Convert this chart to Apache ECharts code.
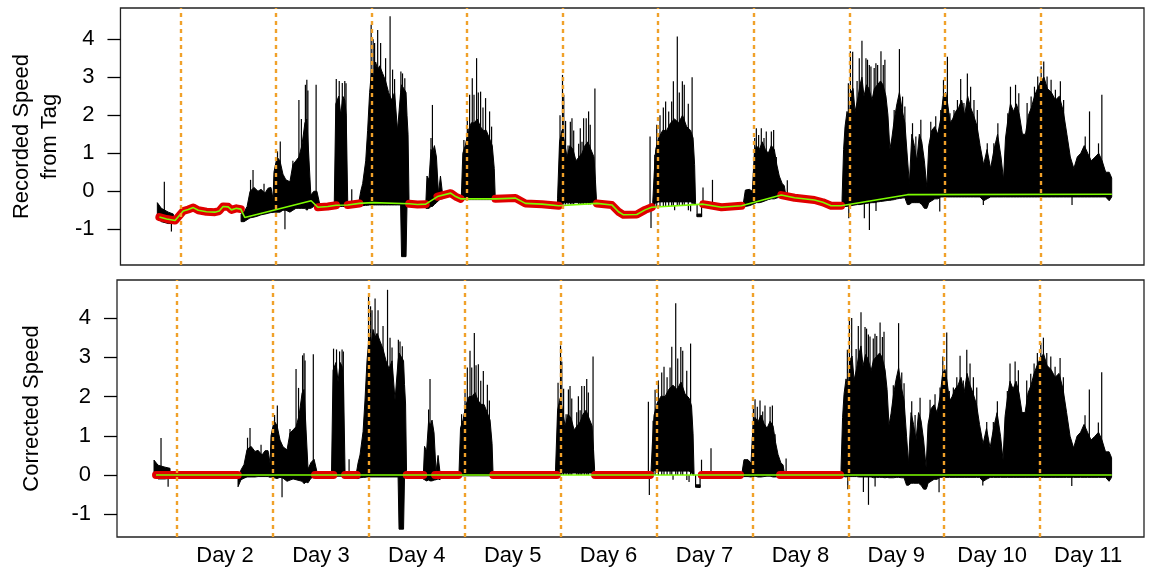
<!DOCTYPE html>
<html>
<head>
<meta charset="utf-8">
<script src="https://cdn.jsdelivr.net/npm/echarts@6/dist/echarts.min.js"></script>
<style>
  html, body { margin: 0; padding: 0; background: #fff; }
  #chart { width: 1149px; height: 573px; }
</style>
</head>
<body>
<div id="chart"></div>
<script>
// time is in days; Day k runs from k-1 to k
const tMin = 0.374;
const tMax = 11.083;
const dayBreaks = [1, 2, 3, 4, 5, 6, 7, 8, 9, 10];
const dayMids = [1.5, 2.5, 3.5, 4.5, 5.5, 6.5, 7.5, 8.5, 9.5, 10.5];
const dayLabels = ['Day 2', 'Day 3', 'Day 4', 'Day 5', 'Day 6', 'Day 7', 'Day 8', 'Day 9', 'Day 10', 'Day 11'];
const yTicks = [-1, 0, 1, 2, 3, 4];

// envelope of the dense black trace (upper / lower edge), null splits the bouts
const bodyT = [
  0.760, 0.802, 0.875, 0.927, null,
  1.636, 1.667, 1.699, 1.730, 1.772, 1.813, 1.845, 1.886, 1.918, 1.949, 1.970, 1.980, 2.012, 2.043, 2.074, 2.105, 2.147, 2.178, 2.210, 2.241, 2.272, 2.304, 2.324, 2.345, 2.366, 2.397, 2.429, 2.460, null,
  2.611, 2.627, 2.658, 2.679, 2.700, 2.721, 2.736, 2.752, null,
  2.867, 2.888, 2.908, 2.940, 2.960, 2.981, 3.002, 3.023, 3.044, 3.065, 3.086, 3.117, 3.148, 3.179, 3.211, 3.242, 3.273, 3.305, 3.315, 3.362, 3.372, 3.383, 3.393, null,
  3.570, 3.581, 3.602, 3.623, 3.638, 3.659, 3.680, 3.701, 3.722, 3.743, null,
  3.941, 3.956, 3.982, 4.014, 4.045, 4.076, 4.108, 4.139, 4.170, 4.201, 4.233, 4.264, 4.285, 4.295, null,
  4.947, 4.968, 4.994, 5.020, 5.046, 5.077, 5.109, 5.140, 5.171, 5.203, 5.234, 5.265, 5.296, 5.328, 5.343, 5.354, null,
  5.943, 5.959, 5.974, 6.005, 6.047, 6.089, 6.130, 6.172, 6.214, 6.255, 6.297, 6.339, 6.365, 6.381, 6.391, null,
  6.407, 6.454, null,
  6.892, 6.912, 6.954, 6.985, 7.006, 7.027, 7.058, 7.090, 7.121, 7.152, 7.184, 7.215, 7.241, 7.267, 7.298, 7.319, 7.335, null,
  7.924, 7.940, 7.955, 7.976, 7.997, 8.018, 8.039, 8.060, 8.086, 8.112, 8.132, 8.153, 8.180, 8.205, 8.237,
  8.262, 8.294, 8.326, 8.352, 8.383, 8.404, 8.424, 8.445, 8.471, 8.498, 8.524, 8.555, 8.581,
  8.607, 8.628, 8.654, 8.680, 8.706, 8.732, 8.758, 8.785, 8.811, 8.831, 8.862, 8.894, 8.925,
  8.956, 8.983, 9.008, 9.029, 9.055, 9.081, 9.113, 9.144, 9.175, 9.207, 9.238, 9.269, 9.300, 9.337, 9.368,
  9.405, 9.441, 9.478, 9.514, 9.551, 9.587, 9.613, 9.634, 9.660, 9.686,
  9.718, 9.749, 9.780, 9.811, 9.843, 9.874, 9.905, 9.937, 9.968, 10.004,
  10.036, 10.072, 10.114, 10.156, 10.197, 10.239, 10.276, 10.312, 10.349, 10.385,
  10.422, 10.458, 10.494, 10.531, 10.572, 10.609, 10.645, 10.682, 10.719, 10.745
];
const recHi = [
  -0.3, -0.45, -0.55, -0.6, null,
  -0.6, -0.55, -0.4, 0.0, 0.1, 0.0, 0.05, -0.05, 0.08, 0.1, -0.2, 0.5, 0.9, 0.8, 0.45, 0.3, 0.25, 0.7, 0.8, 0.9, 1.2, 1.8, 1.9, 0.9, -0.1, 0.0, 0.0, -0.35, null,
  -0.3, 2.3, 2.5, 2.0, 2.5, 2.4, 2.0, -0.3, null,
  -0.3, 0.0, 0.2, 0.8, 1.6, 2.6, 3.2, 3.0, 3.4, 3.2, 3.3, 3.1, 2.9, 2.6, 2.4, 2.6, 1.6, 2.6, 2.8, 2.6, 2.0, 1.5, -0.2, null,
  -0.25, 0.4, 0.3, 1.1, 1.0, 1.2, 0.9, -0.05, 0.4, -0.05, null,
  -0.1, 1.0, 1.2, 1.6, 1.8, 1.8, 1.9, 1.7, 1.6, 1.6, 1.4, 1.2, 0.6, -0.15, null,
  -0.2, 1.3, 1.6, 1.3, 0.9, 1.2, 1.1, 0.8, 0.9, 1.0, 1.2, 1.3, 1.1, 0.9, 0.3, -0.2, null,
  -0.3, 0.5, 1.1, 1.4, 1.6, 1.6, 1.8, 1.9, 1.8, 2.0, 1.7, 1.6, 1.4, 0.7, -0.3, null,
  -0.6, -0.6, null,
  -0.3, 0.03, 0.05, 0.0, 1.0, 1.2, 1.1, 1.3, 1.1, 1.0, 1.2, 1.1, 0.7, 0.4, 0.2, 0.15, -0.1, null,
  -0.2, 1.1, 1.7, 2.1, 1.8, 2.6, 2.7, 2.1, 2.4, 2.8, 3.0, 2.5, 2.8, 2.7, 2.4,
  2.7, 2.8, 2.9, 2.8, 2.5, 2.0, 1.1, 1.4, 1.9, 2.3, 2.6, 2.1, 1.8,
  0.9, 0.2, 1.5, 1.2, 0.8, 1.5, 1.3, 0.8, 0.1, 1.2, 1.6, 1.7, 1.5,
  1.9, 2.5, 2.6, 2.3, 1.8, 1.9, 2.1, 2.2, 2.4, 2.0, 2.5, 2.2, 2.0, 1.7, 1.2,
  0.7, 1.1, 0.6, 1.1, 1.5, 0.9, 0.3, 1.4, 1.9, 2.3,
  2.1, 2.3, 2.0, 1.5, 1.5, 2.0, 2.2, 2.5, 2.7, 2.9,
  3.0, 2.7, 2.6, 2.4, 2.5, 2.1, 1.5, 0.9, 0.6, 0.9,
  1.0, 1.2, 1.0, 0.8, 0.9, 1.0, 0.8, 0.5, 0.5, 0.35
];
const recLo = [
  -0.7, -0.8, -0.85, -0.85, null,
  -0.8, -0.8, -0.75, -0.7, -0.68, -0.65, -0.62, -0.6, -0.58, -0.56, -0.56, -0.55, -0.55, -0.55, -0.5, -0.5, -0.55, -0.5, -0.45, -0.45, -0.45, -0.45, -0.5, -0.45, -0.45, -0.4, -0.45, -0.5, null,
  -0.45, -0.4, -0.4, -0.4, -0.4, -0.4, -0.4, -0.45, null,
  -0.4, -0.4, -0.38, -0.37, -0.37, -0.36, -0.36, -0.36, -0.36, -0.36, -0.36, -0.36, -0.36, -0.36, -0.36, -0.36, -0.36, -0.36, -1.72, -1.72, -0.36, -0.36, -0.36, null,
  -0.45, -0.45, -0.45, -0.4, -0.4, -0.35, -0.3, -0.25, -0.2, -0.2, null,
  -0.25, -0.22, -0.22, -0.22, -0.22, -0.22, -0.22, -0.22, -0.22, -0.22, -0.22, -0.22, -0.22, -0.25, null,
  -0.32, -0.3, -0.3, -0.3, -0.3, -0.3, -0.3, -0.3, -0.3, -0.3, -0.3, -0.3, -0.3, -0.3, -0.3, -0.32, null,
  -0.4, -0.35, -0.3, -0.28, -0.28, -0.28, -0.28, -0.28, -0.28, -0.28, -0.28, -0.28, -0.3, -0.35, -0.35, null,
  -0.67, -0.67, null,
  -0.4, -0.4, -0.38, -0.35, -0.33, -0.3, -0.3, -0.28, -0.25, -0.22, -0.2, -0.2, -0.18, -0.15, -0.15, -0.15, -0.15, null,
  -0.45, -0.4, -0.4, -0.4, -0.38, -0.38, -0.37, -0.36, -0.35, -0.35, -0.34, -0.33, -0.32, -0.31, -0.3,
  -0.3, -0.28, -0.27, -0.26, -0.25, -0.24, -0.24, -0.23, -0.22, -0.2, -0.19, -0.18, -0.17,
  -0.35, -0.35, -0.3, -0.3, -0.3, -0.3, -0.35, -0.45, -0.45, -0.3, -0.25, -0.2, -0.2,
  -0.15, -0.15, -0.15, -0.15, -0.15, -0.15, -0.15, -0.15, -0.15, -0.15, -0.15, -0.15, -0.15, -0.15, -0.15,
  -0.25, -0.2, -0.15, -0.15, -0.15, -0.15, -0.15, -0.15, -0.15, -0.15,
  -0.15, -0.15, -0.15, -0.15, -0.15, -0.15, -0.15, -0.15, -0.15, -0.15,
  -0.15, -0.15, -0.15, -0.15, -0.15, -0.15, -0.15, -0.15, -0.15, -0.15,
  -0.15, -0.15, -0.15, -0.15, -0.15, -0.15, -0.15, -0.15, -0.25, -0.15
];
const corHi = [
  0.38, 0.25, 0.2, 0.17, null,
  -0.1, 0.13, 0.27, 0.65, 0.73, 0.6, 0.63, 0.51, 0.62, 0.62, 0.3, 1.0, 1.38, 1.26, 0.89, 0.72, 0.64, 1.07, 1.15, 1.23, 1.51, 2.09, 2.18, 1.17, 0.15, 0.32, 0.4, 0.07, null,
  0.07, 2.67, 2.87, 2.37, 2.87, 2.77, 2.37, 0.06, null,
  0.01, 0.31, 0.51, 1.11, 1.91, 2.91, 3.51, 3.31, 3.71, 3.51, 3.61, 3.41, 3.21, 2.91, 2.71, 2.91, 1.91, 2.91, 3.11, 2.91, 2.31, 1.81, 0.11, null,
  0.09, 0.73, 0.6, 1.37, 1.25, 1.4, 1.07, 0.08, 0.5, 0.05, null,
  0.1, 1.2, 1.4, 1.8, 2.0, 2.0, 2.1, 1.9, 1.8, 1.8, 1.6, 1.4, 0.8, 0.05, null,
  0.15, 1.65, 1.95, 1.65, 1.25, 1.55, 1.45, 1.15, 1.25, 1.35, 1.55, 1.65, 1.45, 1.25, 0.65, 0.15, null,
  0.12, 0.92, 1.52, 1.82, 2.01, 2.0, 2.19, 2.29, 2.18, 2.37, 2.07, 1.96, 1.76, 1.05, 0.05, null,
  -0.25, -0.25, null,
  0.07, 0.39, 0.39, 0.3, 1.29, 1.47, 1.35, 1.53, 1.31, 1.19, 1.37, 1.25, 0.83, 0.52, 0.3, 0.26, 0.02, null,
  0.18, 1.47, 2.06, 2.45, 2.15, 2.94, 3.03, 2.42, 2.71, 3.1, 3.29, 2.78, 3.07, 2.96, 2.65,
  2.93, 3.02, 3.11, 3.0, 2.68, 2.18, 1.27, 1.56, 2.05, 2.44, 2.73, 2.21, 1.9,
  0.99, 0.29, 1.59, 1.29, 0.89, 1.59, 1.39, 0.89, 0.19, 1.29, 1.69, 1.79, 1.59,
  1.99, 2.59, 2.69, 2.39, 1.89, 1.99, 2.19, 2.29, 2.49, 2.09, 2.59, 2.29, 2.09, 1.79, 1.29,
  0.79, 1.19, 0.69, 1.19, 1.59, 0.99, 0.39, 1.49, 1.99, 2.39,
  2.19, 2.39, 2.09, 1.59, 1.59, 2.09, 2.29, 2.59, 2.79, 2.99,
  3.09, 2.79, 2.69, 2.49, 2.59, 2.19, 1.59, 0.99, 0.69, 0.99,
  1.09, 1.29, 1.09, 0.89, 0.99, 1.09, 0.89, 0.59, 0.59, 0.44
];
const corLo = [
  -0.02, -0.1, -0.1, -0.08, null,
  -0.3, -0.12, -0.08, -0.05, -0.05, -0.05, -0.04, -0.04, -0.04, -0.04, -0.06, -0.05, -0.07, -0.09, -0.06, -0.08, -0.16, -0.13, -0.1, -0.12, -0.14, -0.16, -0.22, -0.18, -0.2, -0.08, -0.05, -0.08, null,
  -0.08, -0.03, -0.03, -0.03, -0.03, -0.03, -0.03, -0.09, null,
  -0.09, -0.09, -0.07, -0.06, -0.06, -0.05, -0.05, -0.05, -0.05, -0.05, -0.05, -0.05, -0.05, -0.05, -0.05, -0.05, -0.05, -0.05, -1.38, -1.38, -0.05, -0.05, -0.05, null,
  -0.11, -0.12, -0.15, -0.13, -0.15, -0.15, -0.13, -0.12, -0.1, -0.12, null,
  -0.05, -0.02, -0.02, -0.02, -0.02, -0.02, -0.02, -0.02, -0.02, -0.02, -0.02, -0.02, -0.02, -0.05, null,
  0.03, 0.05, 0.05, 0.05, 0.05, 0.05, 0.05, 0.05, 0.05, 0.05, 0.05, 0.05, 0.05, 0.05, 0.05, 0.03, null,
  0.02, 0.07, 0.12, 0.1, 0.1, 0.1, 0.1, 0.1, 0.1, 0.1, 0.1, 0.1, 0.06, 0.0, 0.0, null,
  -0.31, -0.32, null,
  -0.03, -0.04, -0.04, -0.05, -0.04, -0.03, -0.05, -0.05, -0.04, -0.03, -0.03, -0.05, -0.05, -0.04, -0.05, -0.04, -0.03, null,
  -0.07, -0.03, -0.04, -0.05, -0.03, -0.04, -0.04, -0.04, -0.04, -0.05, -0.05, -0.05, -0.05, -0.05, -0.05,
  -0.07, -0.06, -0.06, -0.06, -0.07, -0.06, -0.07, -0.07, -0.07, -0.06, -0.06, -0.07, -0.07,
  -0.26, -0.26, -0.21, -0.21, -0.21, -0.21, -0.26, -0.36, -0.36, -0.21, -0.16, -0.11, -0.11,
  -0.06, -0.06, -0.06, -0.06, -0.06, -0.06, -0.06, -0.06, -0.06, -0.06, -0.06, -0.06, -0.06, -0.06, -0.06,
  -0.16, -0.11, -0.06, -0.06, -0.06, -0.06, -0.06, -0.06, -0.06, -0.06,
  -0.06, -0.06, -0.06, -0.06, -0.06, -0.06, -0.06, -0.06, -0.06, -0.06,
  -0.06, -0.06, -0.06, -0.06, -0.06, -0.06, -0.06, -0.06, -0.06, -0.06,
  -0.06, -0.06, -0.06, -0.06, -0.06, -0.06, -0.06, -0.06, -0.16, -0.06
];

// single needles: time, tip on the recorded panel, foot (baseline) there, tip on the corrected panel
const needleT = [
  0.833, 0.907, 1.735, 1.761, 1.876, 2.017, 2.046, 2.095, 2.178, 2.241, 2.267, 2.309, 2.324, 2.335, 2.421,
  2.632, 2.663, 2.695, 2.721, 2.734, 2.794, 2.997, 3.018, 3.033, 3.065, 3.096, 3.148, 3.195, 3.221, 3.242, 3.308, 3.325, 3.349,
  3.623, 3.638, 3.967, 4.003, 4.027, 4.055, 4.073, 4.100, 4.118, 4.142, 4.167, 4.194, 4.236, 4.257,
  4.973, 4.999, 5.012, 5.031, 5.057, 5.081, 5.098, 5.116, 5.168, 5.185, 5.203, 5.220, 5.247, 5.272, 5.289, 5.338,
  5.915, 5.925, 5.964, 5.985, 6.019, 6.054, 6.078, 6.110, 6.141, 6.159, 6.172, 6.200, 6.221, 6.253, 6.273, 6.315, 6.316, 6.339, 6.355, 6.407, 6.454, 6.469, 6.568,
  7.010, 7.027, 7.051, 7.079, 7.107, 7.131, 7.184, 7.208, 7.236, 7.351,
  7.990, 7.994, 8.011, 8.035, 8.081, 8.104, 8.132, 8.157, 8.174, 8.190, 8.209, 8.210, 8.226, 8.260, 8.278, 8.279, 8.296, 8.331, 8.355, 8.372, 8.469, 8.524, 8.557, 8.581,
  8.661, 8.696, 8.748, 8.818, 8.852, 8.904, 8.946, 8.956, 8.985, 9.026, 9.053, 9.095, 9.131, 9.165, 9.199, 9.235, 9.269, 9.304, 9.339, 9.402, 9.443, 9.512, 9.554,
  9.658, 9.686, 9.739, 9.773, 9.860, 9.902, 9.937, 9.971, 10.007, 10.034, 10.069, 10.111, 10.156, 10.208, 10.242, 10.330, 10.468, 10.513, 10.607, 10.642
];
const needleRec = [
  0.25, -1.06, 0.3, 0.56, 0.2, 1.05, 1.31, -1.0, 0.8, 2.4, 1.9, 2.8, 2.93, 2.65, 2.8,
  2.95, 2.9, 2.85, 2.9, 2.84, 0.05, 4.38, 4.0, 3.9, 4.24, 3.9, 3.5, 4.6, 3.2, 2.95, 3.15, 3.1, 2.97,
  1.4, 2.27, 1.35, 1.9, 2.54, 2.97, 2.54, 3.5, 2.6, 2.62, 2.2, 2.45, 2.1, 1.7,
  2.0, 3.06, 2.54, 1.85, 1.2, 1.83, 1.92, 1.6, 1.25, 1.66, 1.3, 1.92, 1.92, 2.1, 1.75, 2.7,
  1.44, -0.97, 0.96, 1.75, 2.0, 2.2, 2.36, 2.1, 2.36, 2.89, -0.5, 4.07, 2.6, 2.89, 2.8, 2.3, -0.5, -0.53, 3.0, -0.67, -0.67, 0.1, 0.3,
  1.4, 1.66, 1.48, 1.66, 1.4, 1.57, 1.57, 1.61, 0.9, 0.29,
  2.84, -0.71, 3.68, 3.67, 2.9, 3.5, 3.96, -0.71, 3.5, 3.46, 3.32, -1.02, 3.28, 3.24, 3.37, -0.52, 3.32, 3.68, 3.32, 3.46, 2.14, 3.74, 2.49, 2.23,
  1.79, 1.44, 1.88, -0.4, 1.83, 1.97, -0.53, 2.14, 2.93, 3.54, 2.05, 2.14, 2.4, 2.95, 2.32, 3.1, 2.75, 2.4, 2.14, -0.36, 1.26, 1.26, 1.79,
  2.05, 2.75, 2.8, 2.58, 2.32, 2.49, 2.75, 3.02, 3.28, 3.41, 3.02, 2.93, 2.67, 2.89, 2.4, -0.36, 1.44, 2.1, 1.26, 2.54
];
const needleFoot = [
  -0.72, -0.76, -0.65, -0.64, -0.57, -0.48, -0.46, -0.43, -0.37, -0.33, -0.32, -0.29, -0.28, -0.27, -0.38,
  -0.37, -0.37, -0.37, -0.37, -0.37, -0.36, -0.31, -0.31, -0.31, -0.31, -0.31, -0.31, -0.31, -0.31, -0.31, -0.31, -0.31, -0.31,
  -0.27, -0.25, -0.2, -0.2, -0.2, -0.2, -0.2, -0.2, -0.2, -0.2, -0.2, -0.2, -0.2, -0.2,
  -0.35, -0.35, -0.35, -0.35, -0.35, -0.35, -0.35, -0.35, -0.35, -0.35, -0.35, -0.35, -0.35, -0.35, -0.35, -0.33,
  -0.44, -0.44, -0.42, -0.42, -0.41, -0.41, -0.4, -0.4, -0.39, -0.39, -0.39, -0.38, -0.38, -0.37, -0.37, -0.36, -0.36, -0.36, -0.36, -0.35, -0.34, -0.34, -0.38,
  -0.29, -0.28, -0.26, -0.24, -0.22, -0.2, -0.17, -0.16, -0.14, -0.13,
  -0.35, -0.35, -0.34, -0.33, -0.31, -0.3, -0.29, -0.28, -0.27, -0.27, -0.26, -0.26, -0.25, -0.24, -0.23, -0.23, -0.22, -0.21, -0.2, -0.19, -0.15, -0.13, -0.12, -0.11,
  -0.09, -0.09, -0.09, -0.09, -0.09, -0.09, -0.09, -0.09, -0.09, -0.09, -0.09, -0.09, -0.09, -0.09, -0.09, -0.09, -0.09, -0.09, -0.09, -0.09, -0.09, -0.09, -0.09,
  -0.09, -0.09, -0.09, -0.09, -0.09, -0.09, -0.09, -0.09, -0.09, -0.09, -0.09, -0.09, -0.09, -0.09, -0.09, -0.08, -0.08, -0.08, -0.08, -0.08
];
const needleCor = [
  0.94, -0.3, 0.95, 1.2, 0.77, 1.53, 1.77, -0.57, 1.17, 2.7, 2.22, 3.05, 3.1, 2.92, 3.08,
  3.22, 3.2, 3.15, 3.2, 3.15, 0.4, 4.56, 4.3, 4.2, 4.5, 4.2, 3.8, 4.72, 3.5, 3.25, 3.45, 3.4, 3.28,
  1.67, 2.45, 1.55, 2.1, 2.74, 3.17, 2.74, 3.62, 2.8, 2.82, 2.4, 2.65, 2.3, 1.9,
  2.35, 3.3, 2.89, 2.2, 1.55, 2.18, 2.27, 1.95, 1.6, 2.01, 1.65, 2.27, 2.27, 2.45, 2.1, 3.02,
  1.87, -0.51, 1.38, 2.17, 2.41, 2.61, 2.76, 2.49, 2.74, 3.27, -0.12, 4.38, 2.97, 3.26, 3.17, 2.66, -0.13, -0.18, 3.35, -0.31, -0.32, 0.39, 0.68,
  1.69, 1.93, 1.74, 1.9, 1.62, 1.77, 1.74, 1.77, 1.04, 0.42,
  3.19, -0.36, 4.02, 4.0, 3.21, 3.8, 4.15, -0.43, 3.77, 3.73, 3.58, -0.76, 3.53, 3.48, 3.6, -0.29, 3.54, 3.89, 3.52, 3.65, 2.29, 3.87, 2.61, 2.34,
  1.88, 1.53, 1.97, -0.31, 1.92, 2.06, -0.44, 2.23, 3.02, 3.63, 2.14, 2.23, 2.49, 3.04, 2.41, 3.19, 2.84, 2.49, 2.23, -0.27, 1.35, 1.35, 1.88,
  2.14, 2.84, 2.89, 2.67, 2.41, 2.58, 2.84, 3.11, 3.37, 3.5, 3.11, 3.02, 2.76, 2.98, 2.49, -0.28, 1.52, 2.18, 1.34, 2.62
];

// estimated baseline of the recorded speed (green line)
const baseT = [
  0.781, 0.857, 0.945, 0.997, 1.031, 1.083, 1.136, 1.188, 1.274, 1.362, 1.407, 1.448, 1.501, 1.535, 1.587, 1.633,
  1.675, 2.369, 2.439, 2.543, 2.630, 2.752, 2.874, 3.013, 3.395, 3.482, 3.568, 3.691, 3.829, 3.881, 3.933,
  4.298, 4.507, 4.611, 4.785, 4.960, 5.359, 5.515, 5.585, 5.637, 5.776, 5.863, 5.932,
  6.471, 6.662, 6.871, 7.288, 7.427, 7.635, 7.723, 7.809, 7.914, 8.609, 10.747
];
const recBase = [
  -0.68, -0.73, -0.77, -0.62, -0.52, -0.48, -0.43, -0.50, -0.54, -0.55, -0.52, -0.40, -0.41, -0.49, -0.45, -0.47,
  -0.69, -0.25, -0.42, -0.40, -0.37, -0.36, -0.32, -0.30, -0.33, -0.35, -0.34, -0.14, -0.05, -0.14, -0.20,
  -0.20, -0.18, -0.32, -0.34, -0.38, -0.32, -0.36, -0.54, -0.62, -0.61, -0.49, -0.42,
  -0.34, -0.42, -0.38, -0.10, -0.17, -0.23, -0.29, -0.38, -0.38, -0.09, -0.08
];
const corBaseT = [0.781, 10.747];
const corBase = [0, 0];

// resting stretches (red)
const quietFrom = [0.781, 2.439, 2.752, 3.395, 3.691, 4.298, 5.359, 6.471, 7.288];
const quietTo = [1.633, 2.630, 2.874, 3.568, 3.933, 4.960, 5.932, 6.871, 7.914];

const font = 'Liberation Sans, Arial, Helvetica, sans-serif';

const splitBouts = (hi, lo) => {
  const out = [];
  let cur = [];
  bodyT.forEach((t, i) => {
    if (t === null) {
      if (cur.length) out.push(cur);
      cur = [];
    } else {
      cur.push([t, hi[i], lo[i]]);
    }
  });
  if (cur.length) out.push(cur);
  return out;
};

const bodySeries = (idx, bouts) => ({
  type: 'custom',
  xAxisIndex: idx,
  yAxisIndex: idx,
  silent: true,
  clip: true,
  z: 2,
  data: bouts.map((b) => [b[0][0], b[0][1]]),
  renderItem: (params, api) => {
    const b = bouts[params.dataIndex];
    const pts = b.map((p) => api.coord([p[0], p[1]]))
      .concat(b.slice().reverse().map((p) => api.coord([p[0], p[2]])));
    return {
      type: 'polygon',
      shape: { points: pts },
      style: { fill: '#000', stroke: '#000', lineWidth: 1 },
    };
  },
});

const needleSeries = (idx, foot, tip) => ({
  type: 'custom',
  xAxisIndex: idx,
  yAxisIndex: idx,
  silent: true,
  clip: true,
  z: 2,
  data: needleT.map((t, i) => [t, foot(i), tip[i]]),
  renderItem: (params, api) => {
    const a = api.coord([api.value(0), api.value(1)]);
    const b = api.coord([api.value(0), api.value(2)]);
    return {
      type: 'line',
      shape: { x1: a[0], y1: a[1], x2: b[0], y2: b[1] },
      style: { stroke: '#000', lineWidth: 1.2 },
    };
  },
});

const recQuiet = [];
const corQuiet = [];
quietFrom.forEach((a, k) => {
  baseT.forEach((t, i) => {
    if (t >= a - 1e-6 && t <= quietTo[k] + 1e-6) recQuiet.push([t, recBase[i]]);
  });
  recQuiet.push([quietTo[k], null]);
  corQuiet.push([a, 0], [quietTo[k], 0], [quietTo[k], null]);
});

const redSeries = (idx, data) => ({
  type: 'line',
  xAxisIndex: idx,
  yAxisIndex: idx,
  data,
  symbol: 'none',
  silent: true,
  connectNulls: false,
  z: 3,
  lineStyle: { color: '#e00000', width: 8, cap: 'round', join: 'round' },
});

const greenSeries = (idx, data) => ({
  type: 'line',
  xAxisIndex: idx,
  yAxisIndex: idx,
  data,
  symbol: 'none',
  silent: true,
  z: 4,
  lineStyle: { color: '#7cfc00', width: 1.6 },
  markLine: {
    silent: true,
    symbol: ['none', 'none'],
    label: { show: false },
    lineStyle: { color: '#f0a12a', type: [4, 4], width: 2.4 },
    data: dayBreaks.map((d) => ({ xAxis: d })),
  },
});

const xAxis = (idx, labels) => ({
  gridIndex: idx,
  type: 'value',
  min: tMin,
  max: tMax,
  axisLine: { show: false },
  axisTick: { show: false },
  splitLine: { show: false },
  axisLabel: labels
    ? {
        customValues: dayMids,
        formatter: (v) => dayLabels[Math.round(v - 1.5)],
        fontSize: 22,
        color: '#000',
        margin: 8,
        fontFamily: font,
      }
    : { show: false },
});

const yAxis = (idx, min, max, name, gap) => ({
  gridIndex: idx,
  type: 'value',
  min,
  max,
  name,
  nameLocation: 'middle',
  nameGap: gap,
  nameTextStyle: { fontSize: 22, lineHeight: 28, color: '#000', fontFamily: font },
  axisLine: { show: false },
  axisTick: {
    show: true,
    length: 13,
    customValues: yTicks,
    lineStyle: { color: '#000', width: 1.3 },
  },
  axisLabel: { customValues: yTicks, fontSize: 22, color: '#000', margin: 26, fontFamily: font },
  splitLine: { show: false },
});

const chart = echarts.init(document.getElementById('chart'));
chart.setOption({
  animation: false,
  backgroundColor: '#fff',
  textStyle: { fontFamily: font },
  grid: [
    { left: 117, right: 5, top: 8, height: 257, show: true, borderColor: '#222', borderWidth: 1.3 },
    { left: 117, right: 5, top: 280, height: 257, show: true, borderColor: '#222', borderWidth: 1.3 },
  ],
  xAxis: [xAxis(0, false), xAxis(1, true)],
  yAxis: [
    yAxis(0, -1.94, 4.82, 'Recorded Speed\nfrom Tag', 55),
    yAxis(1, -1.58, 4.97, 'Corrected Speed', 71),
  ],
  series: [
    bodySeries(0, splitBouts(recHi, recLo)),
    needleSeries(0, (i) => needleFoot[i], needleRec),
    redSeries(0, recQuiet),
    greenSeries(0, baseT.map((t, i) => [t, recBase[i]])),
    bodySeries(1, splitBouts(corHi, corLo)),
    needleSeries(1, () => 0, needleCor),
    redSeries(1, corQuiet),
    greenSeries(1, corBaseT.map((t, i) => [t, corBase[i]])),
  ],
});
</script>
</body>
</html>
